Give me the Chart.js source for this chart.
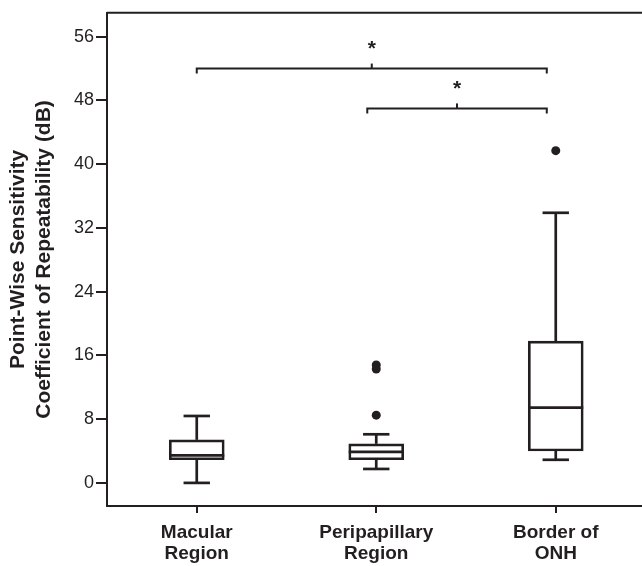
<!DOCTYPE html>
<html>
<head>
<meta charset="utf-8">
<style>
  html, body { margin: 0; padding: 0; background: #fff; overflow: hidden; }
  #wrap { width: 650px; height: 566px; }
</style>
</head>
<body>
<div id="wrap"><canvas id="chart"></canvas></div>
<script src="https://cdn.jsdelivr.net/npm/chart.js@4/dist/chart.umd.min.js"></script>
<script>
const categories = [['Macular', 'Region'], ['Peripapillary', 'Region'], ['Border of', 'ONH']];
const whiskerLow = [0, 1.75, 2.9];
const q1 = [2.9, 2.9, 4.0];
const median = [3.45, 3.9, 9.45];
const q3 = [5.4, 4.9, 17.8];
const whiskerHigh = [8.4, 6.1, 33.9];
const outlierGroup = [1, 1, 1, 2];
const outlierValue = [8.5, 14.3, 14.8, 41.7];
const yTicks = [0, 8, 16, 24, 32, 40, 48, 56];
// significance brackets (category positions, y level)
const bracketFrom = [0, 0.95];
const bracketTo = [1.95, 1.95];
const bracketY = [52, 47];
const bracketLabel = ['*', '*'];

const ink = '#231f20';
const font = '"Liberation Sans", Arial, sans-serif';

const boxParts = {
    id: 'boxParts',
    afterDatasetsDraw(chart) {
        const ctx = chart.ctx;
        const x = chart.scales.x;
        const y = chart.scales.y;
        const bars = chart.getDatasetMeta(0).data;
        ctx.save();
        ctx.strokeStyle = ink;
        ctx.lineWidth = 2.7;
        const line = (x1, y1, x2, y2) => {
            ctx.beginPath();
            ctx.moveTo(x1, y1);
            ctx.lineTo(x2, y2);
            ctx.stroke();
        };
        categories.forEach((c, i) => {
            const cx = x.getPixelForValue(i);
            const half = bars[i].width / 2;
            const cap = half * 0.48;
            line(cx, y.getPixelForValue(q3[i]), cx, y.getPixelForValue(whiskerHigh[i]));
            line(cx - cap, y.getPixelForValue(whiskerHigh[i]), cx + cap, y.getPixelForValue(whiskerHigh[i]));
            line(cx, y.getPixelForValue(q1[i]), cx, y.getPixelForValue(whiskerLow[i]));
            line(cx - cap, y.getPixelForValue(whiskerLow[i]), cx + cap, y.getPixelForValue(whiskerLow[i]));
            line(cx - half, y.getPixelForValue(median[i]), cx + half, y.getPixelForValue(median[i]));
        });

        // brackets
        ctx.lineWidth = 2;
        bracketY.forEach((v, i) => {
            const x1 = x.getPixelForValue(bracketFrom[i]);
            const x2 = x.getPixelForValue(bracketTo[i]);
            const py = y.getPixelForValue(v);
            const mid = (x1 + x2) / 2;
            ctx.beginPath();
            ctx.moveTo(x1, py + 5);
            ctx.lineTo(x1, py);
            ctx.lineTo(x2, py);
            ctx.lineTo(x2, py + 5);
            ctx.stroke();
            line(mid, py, mid, py - 5);
            ctx.fillStyle = ink;
            ctx.font = 'bold 21px ' + font;
            ctx.textAlign = 'center';
            ctx.textBaseline = 'middle';
            ctx.fillText(bracketLabel[i], mid, py - 19);
        });

        // top frame line
        ctx.lineWidth = 2;
        line(chart.chartArea.left, chart.chartArea.top, chart.chartArea.right, chart.chartArea.top);
        ctx.restore();
    }
};

const ctx = document.getElementById('chart').getContext('2d');

const myChart = new Chart(ctx, { // eslint-disable-line
    type: 'bar',
    data: {
        labels: categories,
        datasets: [
            {
                type: 'bar',
                data: q1.map((v, i) => [v, q3[i]]),
                backgroundColor: '#ffffff',
                borderColor: ink,
                borderWidth: 2.7,
                borderSkipped: false,
                barThickness: 55,
                grouped: false
            },
            {
                type: 'scatter',
                xAxisID: 'xo',
                order: -1,
                data: outlierGroup.map((g, i) => ({ x: g, y: outlierValue[i] })),
                backgroundColor: ink,
                borderColor: ink,
                pointRadius: 4.5,
                borderWidth: 0
            }
        ]
    },
    options: {
        responsive: true,
        maintainAspectRatio: false,
        animation: false,
        layout: { padding: { top: 11, right: 4, left: 0, bottom: 0 } },
        plugins: {
            legend: { display: false },
            tooltip: { enabled: false }
        },
        scales: {
            x: {
                type: 'category',
                offset: true,
                grid: { display: true, offset: false, drawOnChartArea: false, drawTicks: true, tickLength: 7, color: ink, lineWidth: 2 },
                border: { display: true, color: ink, width: 2 },
                ticks: { color: ink, padding: 9, font: { family: font, size: 19, weight: 'bold', lineHeight: 1.13 } },
                afterFit(scale) { scale.height = 60; }
            },
            xo: {
                type: 'linear',
                display: false,
                offset: false,
                min: -0.5,
                max: 2.5
            },
            y: {
                min: -2.9,
                max: 59,
                grid: { display: true, drawOnChartArea: false, drawTicks: true, tickLength: 11, color: ink, lineWidth: 2 },
                border: { display: true, color: ink, width: 2 },
                ticks: { color: ink, padding: 2, font: { family: font, size: 18 } },
                afterBuildTicks(scale) { scale.ticks = yTicks.map(v => ({ value: v })); },
                title: {
                    display: true,
                    text: ['Point-Wise Sensitivity', 'Coefficient of Repeatability (dB)'],
                    color: ink,
                    font: { family: font, size: 21, weight: 'bold', lineHeight: 1.2 },
                    padding: { top: 6, bottom: 0 }
                },
                afterFit(scale) { scale.width = 107; }
            }
        }
    },
    plugins: [boxParts]
});
</script>
</body>
</html>
